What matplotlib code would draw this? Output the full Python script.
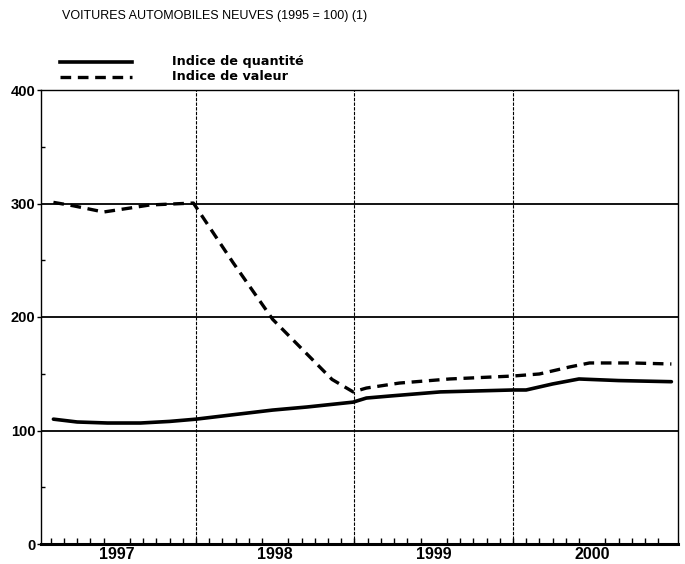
import matplotlib
matplotlib.use("Agg")
import matplotlib.pyplot as plt
import numpy as np

# months since Jan 1997 (0 = start of 1997)
qty_months = [1.2, 3.0, 5.3, 7.8, 10.0, 12.0, 14.6, 17.8, 20.4, 23.9, 24.9, 26.7, 30.5, 36.0, 37.0, 39.0, 41.0, 44.0, 48.0]
qty_values = [110, 107.5, 106.6, 106.6, 108, 110, 113.6, 118, 120.7, 125, 128.6, 130.4, 134, 135.7, 135.7, 141, 145.4, 144, 143]

val_months = [1.2, 2.7, 5.0, 7.0, 8.5, 11.8, 14.8, 17.8, 22.3, 23.9, 24.9, 27.4, 31.2, 36.0, 38.0, 40.3, 41.8, 45.0, 48.0]
val_values = [301, 298, 292.5, 296, 298.7, 300.4, 248, 198, 145, 134, 137.4, 141.8, 145.4, 148, 149.8, 156, 159.5, 159.5, 158.6]

year_labels = ["1997", "1998", "1999", "2000"]
year_centers = [6, 18, 30, 42]
year_bounds = [12, 24, 36]
y_major = [0, 100, 200, 300, 400]
y_minor = [50, 150, 250, 350]

title = "VOITURES AUTOMOBILES NEUVES (1995 = 100) (1)"
legend_labels = ["Indice de quantité", "Indice de valeur"]

plt.rcParams['font.family'] = ['Liberation Sans', 'DejaVu Sans']

fig = plt.figure(figsize=(6.85, 5.64), dpi=100)
ax = fig.add_axes([41/685, 1-544/564, (678-41)/685, (544-90)/564])

ax.set_xlim(0.26, 48.5)
ax.set_ylim(0, 400)

# horizontal grid
for yv in y_major[1:]:
    ax.axhline(yv, color='black', lw=1.3, zorder=1)
# vertical grid (dotted)
for xb in year_bounds:
    ax.axvline(xb, color='black', lw=0.8, ls=(0, (3, 1.2)), zorder=1)

l1, = ax.plot(qty_months, qty_values, color='black', lw=2.6,
              solid_capstyle='round', solid_joinstyle='round', zorder=3)
l2, = ax.plot(val_months, val_values, color='black', lw=2.4, ls=(0, (3.2, 2.0)),
              dash_joinstyle='round', zorder=3)

for s in ['left', 'right', 'top']:
    ax.spines[s].set_linewidth(1.0)
ax.spines['bottom'].set_linewidth(2.2)

ax.set_yticks(y_major)
ax.set_yticklabels([str(v) for v in y_major], fontsize=10.5, fontweight='bold')
ax.set_yticks(y_minor, minor=True)
ax.tick_params(axis='y', which='major', direction='out', length=3, width=1.0, pad=1)
ax.tick_params(axis='y', which='minor', direction='in', length=3, width=1.0)

ax.set_xticks(year_centers)
ax.set_xticklabels(year_labels, fontsize=11.5, fontweight='bold')
ax.tick_params(axis='x', which='major', length=0, pad=2)
ax.set_xticks(np.arange(1, 48), minor=True)
ax.tick_params(axis='x', which='minor', direction='in', length=4, width=1.0)

fig.text(62/685, 1-16/564, title, fontsize=9.0, va='center', ha='left')

# legend drawn manually in figure pixel coords
ax_leg = fig.add_axes([0, 0, 1, 1], facecolor='none')
ax_leg.set_xlim(0, 685)
ax_leg.set_ylim(564, 0)
ax_leg.axis('off')
ax_leg.plot([60, 132], [62, 62], color='black', lw=2.6)
ax_leg.plot([60, 132], [77, 77], color='black', lw=2.4, ls=(0, (3.2, 2.0)))
ax_leg.text(172, 61, legend_labels[0], fontsize=9.2, fontweight='bold', va='center', ha='left',
            family=['DejaVu Sans'])
ax_leg.text(172, 76, legend_labels[1], fontsize=9.2, fontweight='bold', va='center', ha='left',
            family=['DejaVu Sans'])

fig.savefig("out.png", dpi=100)
